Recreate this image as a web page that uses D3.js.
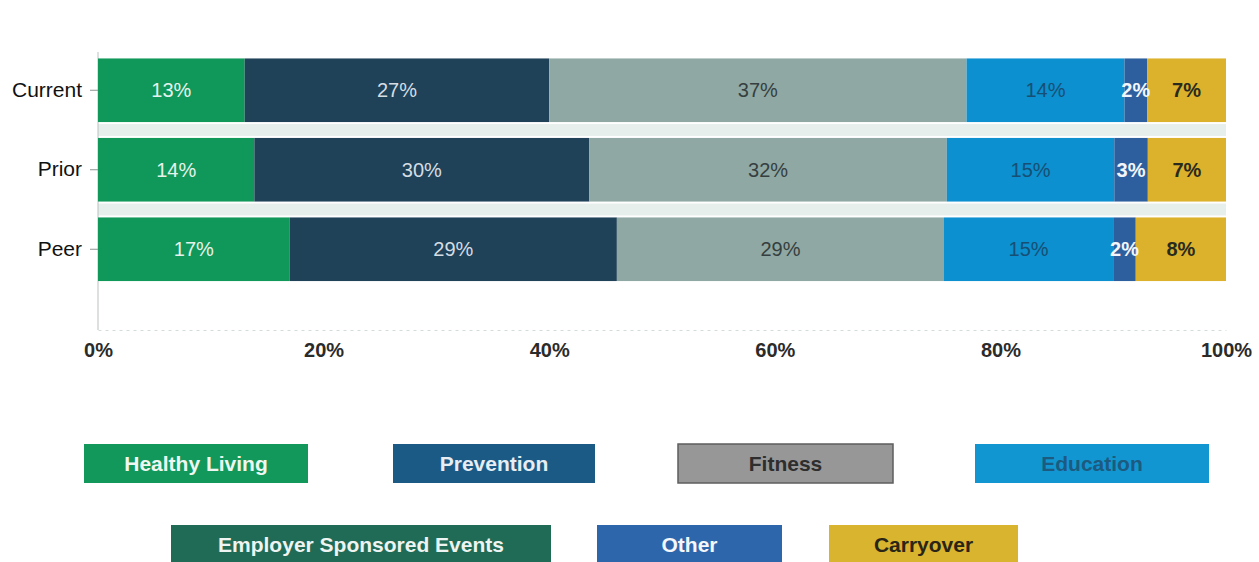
<!DOCTYPE html>
<html>
<head>
<meta charset="utf-8">
<script src="https://cdn.jsdelivr.net/npm/d3@7"></script>
<style>
  html, body { margin: 0; padding: 0; background: #fff; }
  svg { display: block; font-family: "Liberation Sans", Arial, sans-serif; }
</style>
</head>
<body>
<svg id="chart" width="1259" height="562"></svg>
<script>
// Spending mix by program area, in percent of total
const categories = ["Current", "Prior", "Peer"];
const seriesNames = ["Healthy Living", "Prevention", "Fitness", "Education", "Employer Sponsored Events", "Other", "Carryover"];
const healthyLiving = [13, 14, 17];
const prevention = [27, 30, 29];
const fitness = [37, 32, 29];
const education = [14, 15, 15];
const employerSponsoredEvents = [0, 0, 0];
const other = [2, 3, 2];
const carryover = [7, 7, 8];
const xTickValues = [0, 0.2, 0.4, 0.6, 0.8, 1];

const seriesValues = {
  "Healthy Living": healthyLiving,
  "Prevention": prevention,
  "Fitness": fitness,
  "Education": education,
  "Employer Sponsored Events": employerSponsoredEvents,
  "Other": other,
  "Carryover": carryover
};

// Visual styling per series: bar fill, legend fill, label colour / weight
const style = {
  "Healthy Living":            { bar: "#10985a", legend: "#12985a", text: "#e6f3ec", legendText: "#eef7f1", weight: "normal" },
  "Prevention":                { bar: "#1f4259", legend: "#1c5a86", text: "#d5dde3", legendText: "#e6edf3", weight: "normal" },
  "Fitness":                   { bar: "#90a8a3", legend: "#979797", text: "#353f3f", legendText: "#2e2e2e", weight: "normal" },
  "Education":                 { bar: "#0c90cf", legend: "#1296d2", text: "#174f74", legendText: "#1d5a80", weight: "normal" },
  "Employer Sponsored Events": { bar: "#1f6a55", legend: "#206b55", text: "#ffffff", legendText: "#eef4f1", weight: "bold" },
  "Other":                     { bar: "#2d5f9e", legend: "#2e66ab", text: "#f2f6fb", legendText: "#f4f7fb", weight: "bold" },
  "Carryover":                 { bar: "#dcb22c", legend: "#d9b42e", text: "#2a2a1e", legendText: "#2a2516", weight: "bold" }
};

const rows = categories.map((c, i) => {
  const r = { category: c };
  seriesNames.forEach(s => { r[s] = seriesValues[s][i]; });
  return r;
});

const stacked = d3.stack()
  .keys(seriesNames)
  .offset(d3.stackOffsetExpand)(rows);

const svg = d3.select("#chart");
svg.append("rect").attr("width", 1259).attr("height", 562).attr("fill", "#ffffff");

const x = d3.scaleLinear().domain([0, 1]).range([98, 1226]);
const y = d3.scaleBand().domain(categories).range([50.5, 289]).paddingInner(0.2).paddingOuter(0.1);

// pale bands in the gaps between bars
const gaps = categories.slice(0, -1).map((c, i) => [y(c) + y.bandwidth(), y(categories[i + 1])]);
svg.append("g").selectAll("rect").data(gaps).join("rect")
  .attr("x", x(0)).attr("width", x(1) - x(0))
  .attr("y", d => d[0] + 2).attr("height", d => d[1] - d[0] - 4)
  .attr("fill", "#dde8e5").attr("opacity", 0.7);

// y axis line and ticks
svg.append("line")
  .attr("x1", x(0)).attr("x2", x(0)).attr("y1", 52).attr("y2", 330)
  .attr("stroke", "#b9c2c0").attr("stroke-width", 1);

const yAxis = svg.append("g")
  .attr("transform", `translate(${x(0)},0)`)
  .call(d3.axisLeft(y).tickSize(8).tickSizeOuter(0).tickPadding(8));
yAxis.select(".domain").remove();
yAxis.selectAll(".tick line").attr("stroke", "#8a9490");
yAxis.selectAll(".tick text")
  .attr("font-size", 21).attr("fill", "#111").attr("font-family", "Liberation Sans, Arial, sans-serif");

// x axis (faint baseline with bold percent labels)
const xAxis = svg.append("g")
  .attr("transform", "translate(0,330)")
  .call(d3.axisBottom(x).tickValues(xTickValues).tickFormat(d3.format(".0%")).tickSize(0).tickPadding(13));
xAxis.select(".domain").attr("stroke", "#d4dcda").attr("stroke-dasharray", "3,4");
xAxis.selectAll(".tick text")
  .attr("font-size", 20).attr("font-weight", "bold").attr("fill", "#2b2b2b")
  .attr("font-family", "Liberation Sans, Arial, sans-serif");

// stacked bars
const layers = svg.append("g").selectAll("g").data(stacked).join("g")
  .attr("fill", d => style[d.key].bar);

layers.selectAll("rect").data(d => d.filter(p => p[1] > p[0])).join("rect")
  .attr("x", d => x(d[0]))
  .attr("width", d => x(d[1]) - x(d[0]))
  .attr("y", d => y(d.data.category))
  .attr("height", y.bandwidth());

// value labels centred in each segment
const labelGroups = svg.append("g").selectAll("g").data(stacked).join("g");
labelGroups.each(function (layer) {
  const st = style[layer.key];
  d3.select(this).selectAll("text")
    .data(layer.filter(p => p.data[layer.key] > 0))
    .join("text")
    .attr("x", d => (x(d[0]) + x(d[1])) / 2)
    .attr("y", d => y(d.data.category) + y.bandwidth() / 2)
    .attr("dy", "0.36em")
    .attr("text-anchor", "middle")
    .attr("font-size", 20)
    .attr("font-weight", st.weight)
    .attr("fill", st.text)
    .text(d => d.data[layer.key] + "%");
});

// legend: two rows of labelled colour boxes
const legendItems = [
  { name: "Healthy Living", x0: 84, x1: 308, row: 0 },
  { name: "Prevention", x0: 393, x1: 595, row: 0 },
  { name: "Fitness", x0: 678, x1: 893, row: 0 },
  { name: "Education", x0: 975, x1: 1209, row: 0 },
  { name: "Employer Sponsored Events", x0: 171, x1: 551, row: 1 },
  { name: "Other", x0: 597, x1: 782, row: 1 },
  { name: "Carryover", x0: 829, x1: 1018, row: 1 }
];
const rowTop = [444, 525];
const boxH = 39;

const legend = svg.append("g").selectAll("g").data(legendItems).join("g")
  .attr("transform", d => `translate(${d.x0},${rowTop[d.row]})`);

legend.append("rect")
  .attr("width", d => d.x1 - d.x0)
  .attr("height", boxH)
  .attr("fill", d => style[d.name].legend)
  .attr("stroke", d => d.name === "Fitness" ? "#5e5e5e" : "none")
  .attr("stroke-width", 1.5);

legend.append("text")
  .attr("x", d => (d.x1 - d.x0) / 2)
  .attr("y", boxH / 2)
  .attr("dy", "0.36em")
  .attr("text-anchor", "middle")
  .attr("font-size", 21)
  .attr("font-weight", "bold")
  .attr("fill", d => style[d.name].legendText)
  .text(d => d.name);
</script>
</body>
</html>
